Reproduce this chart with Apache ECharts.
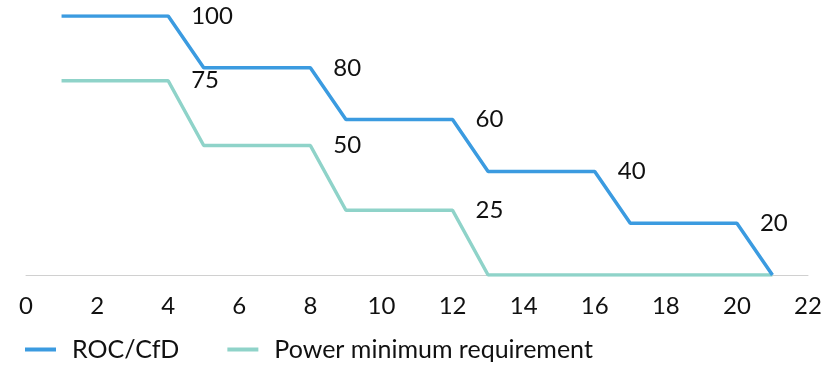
<!DOCTYPE html>
<html>
<head>
<meta charset="utf-8">
<script src="https://cdn.jsdelivr.net/npm/echarts@6/dist/echarts.min.js"></script>
<style>
  html, body { margin: 0; padding: 0; background: #ffffff; }
  #chart { width: 839px; height: 365px; }
</style>
</head>
<body>
<div id="chart"></div>
<script>
// Support level over time for each scheme
const years = [1, 2, 3, 4, 5, 6, 7, 8, 9, 10, 11, 12, 13, 14, 15, 16, 17, 18, 19, 20, 21];
const rocCfd = [100, 100, 100, 100, 80, 80, 80, 80, 60, 60, 60, 60, 40, 40, 40, 40, 20, 20, 20, 20, 0];
const powerMin = [75, 75, 75, 75, 50, 50, 50, 50, 25, 25, 25, 25, 0, 0, 0, 0, 0, 0, 0, 0, 0];
// Years whose value is written next to the line
const rocLabelYears = [4, 8, 12, 16, 20];
const powerLabelYears = [4, 8, 12];

const FONT = 'Lato';

function toPoints(values, labelYears) {
  return years.map((x, i) => {
    const pt = { value: [x, values[i]] };
    if (labelYears.includes(x)) {
      pt.label = { show: true };
    }
    return pt;
  });
}

function lineSeries(name, values, labelYears, color, z) {
  return {
    name: name,
    type: 'line',
    data: toPoints(values, labelYears),
    showSymbol: true,
    symbol: 'circle',
    symbolSize: 0,
    lineStyle: { color: color, width: 3.5 },
    itemStyle: { color: color },
    label: {
      show: false,
      position: 'right',
      distance: 23,
      color: '#111',
      fontSize: 24,
      fontFamily: FONT,
      formatter: p => p.value[1]
    },
    emphasis: { disabled: true },
    z: z
  };
}

const chart = echarts.init(document.getElementById('chart'));
chart.setOption({
  animation: false,
  textStyle: { fontFamily: FONT },
  grid: { left: 26, right: 31, top: 16, bottom: 90 },
  xAxis: {
    type: 'value',
    min: 0,
    max: 22,
    interval: 2,
    axisLine: { show: true, lineStyle: { color: '#d0d0d0', width: 1 } },
    axisTick: { show: false },
    splitLine: { show: false },
    axisLabel: { color: '#111', fontSize: 24, fontFamily: FONT, margin: 19 }
  },
  yAxis: {
    type: 'value',
    min: 0,
    max: 100,
    show: false
  },
  legend: {
    left: 25,
    top: 337,
    padding: 0,
    itemGap: 48,
    icon: 'rect',
    itemWidth: 31,
    itemHeight: 4,
    textStyle: { color: '#111', fontSize: 25, fontFamily: FONT, padding: [0, 0, 0, 11] },
    data: ['ROC/CfD', 'Power minimum requirement']
  },
  series: [
    lineSeries('ROC/CfD', rocCfd, rocLabelYears, '#3b9be0', 3),
    lineSeries('Power minimum requirement', powerMin, powerLabelYears, '#8fd3c9', 2)
  ]
});
</script>
</body>
</html>
